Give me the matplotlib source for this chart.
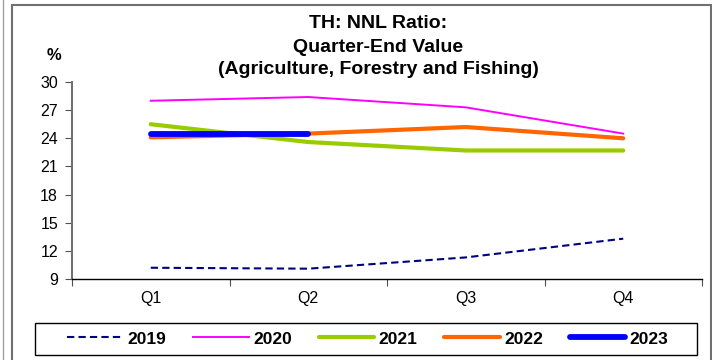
import matplotlib
matplotlib.use("Agg")
import matplotlib.pyplot as plt
from matplotlib.patches import Rectangle
from matplotlib.lines import Line2D

plt.rcParams['font.family'] = ['Liberation Sans', 'DejaVu Sans']

quarters = ["Q1", "Q2", "Q3", "Q4"]
y2019 = [10.2, 10.1, 11.3, 13.3]
y2020 = [28.0, 28.4, 27.3, 24.5]
y2021 = [25.5, 23.6, 22.7, 22.7]
y2022 = [24.1, 24.5, 25.2, 24.0]
y2023 = [24.5, 24.5]
yticks = [9, 12, 15, 18, 21, 24, 27, 30]
title_lines = ["TH: NNL Ratio:", "Quarter-End Value", "(Agriculture, Forestry and Fishing)"]

W, H = 712, 360
fig = plt.figure(figsize=(W / 100, H / 100), dpi=100)

def fx(px):
    return px / W

def fy(py):
    return 1 - py / H

# outer frames
fig.patches.append(Rectangle((fx(12), fy(365)), fx(711) - fx(12), fy(5) - fy(365),
                             transform=fig.transFigure, fill=False,
                             edgecolor="#707070", linewidth=1.5))
fig.lines.append(Line2D([fx(3), fx(3)], [0, 1], transform=fig.transFigure,
                        color="#a0a0a0", linewidth=1.0))

ax = fig.add_axes([fx(72), fy(279), fx(702) - fx(72), fy(82) - fy(279)])
x = list(range(1, len(quarters) + 1))

l19, = ax.plot(x, y2019, color="#000080", lw=1.5, ls=(0, (3.5, 2)), label="2019")
l20, = ax.plot(x, y2020, color="#FF00FF", lw=1.4, label="2020")
l21, = ax.plot(x, y2021, color="#99CC00", lw=3.0, label="2021", solid_capstyle="round")
l22, = ax.plot(x, y2022, color="#FF6600", lw=3.0, label="2022", solid_capstyle="round")
l23, = ax.plot(x[:len(y2023)], y2023, color="#0000FF", lw=4.2, label="2023",
               solid_capstyle="round")

ax.set_xlim(0.5, 4.5)
ax.set_ylim(9, 30)
ax.set_yticks(yticks)
ax.set_yticklabels([str(v) for v in yticks], fontsize=11.5)
ax.set_xticks([0.5, 1.5, 2.5, 3.5, 4.5])
ax.set_xticklabels([])
ax.set_xticks(x, minor=True)
ax.set_xticklabels(quarters, minor=True, fontsize=11.5)
ax.tick_params(axis="x", which="minor", length=0, pad=9)
ax.tick_params(axis="x", which="major", length=5, direction="out", color="#505050")
ax.tick_params(axis="y", length=5, direction="out", color="#505050", pad=5)
for s in ["top", "right"]:
    ax.spines[s].set_visible(False)
ax.spines["left"].set_color("#707070")
ax.spines["left"].set_linewidth(1.5)
ax.spines["bottom"].set_color("black")
ax.spines["bottom"].set_linewidth(1.0)

for line, yc in zip(title_lines, [24, 47, 70]):
    fig.text(fx(378), fy(yc), line, ha="center", va="center", fontsize=14,
             fontweight="bold")
fig.text(fx(54), fy(55), "%", ha="center", va="center", fontsize=12, fontweight="bold")

# legend box
fig.patches.append(Rectangle((fx(35), fy(355)), fx(697) - fx(35), fy(323) - fy(355),
                             transform=fig.transFigure, fill=False,
                             edgecolor="black", linewidth=1.0))
leg = fig.legend(handles=[l19, l20, l21, l22, l23], loc="center",
                 bbox_to_anchor=(fx(368), fy(339)),
                 ncol=5, frameon=False,
                 handlelength=3.2, handletextpad=0.25, columnspacing=1.55,
                 borderaxespad=0,
                 prop={"weight": "bold", "size": 12.5}, borderpad=0.35)

fig.savefig("out.png", dpi=100)
